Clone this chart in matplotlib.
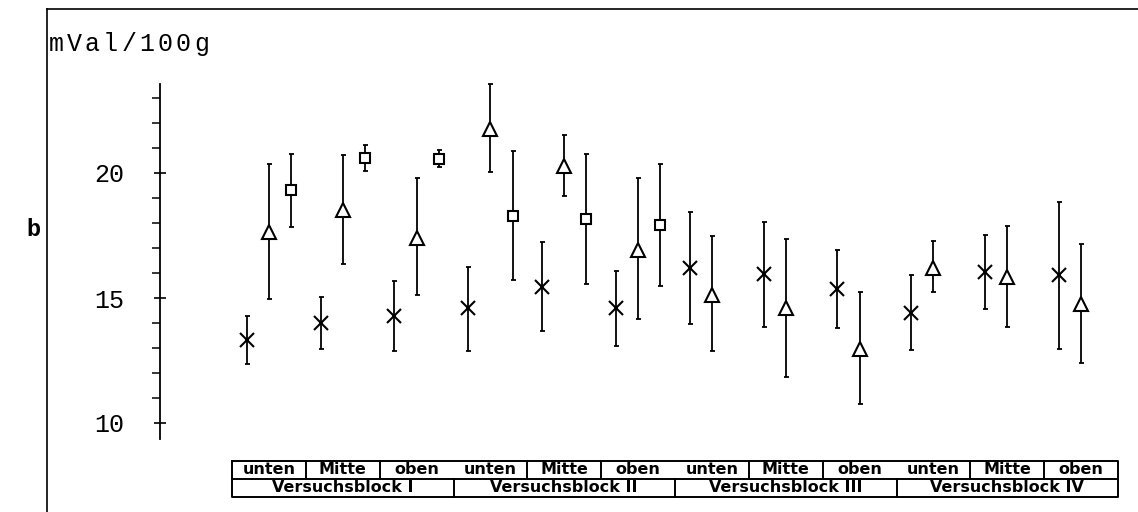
import numpy as np
import matplotlib.pyplot as plt
from matplotlib.lines import Line2D

# Werte (Mittelwert, obere / untere Grenze) je Feld: 4 Versuchsblöcke x (unten, Mitte, oben)
positions = ["unten", "Mitte", "oben"] * 4
blocks = ["Versuchsblock I", "Versuchsblock II", "Versuchsblock III", "Versuchsblock IV"]

x_mean = [13.32, 14.00, 14.28, 14.60, 15.44, 14.60, 16.20, 15.96, 15.36, 14.40, 16.04, 15.92]
x_hi   = [14.28, 15.04, 15.68, 16.24, 17.24, 16.08, 18.44, 18.04, 16.92, 15.92, 17.52, 18.84]
x_lo   = [12.36, 12.96, 12.88, 12.88, 13.68, 13.08, 13.96, 13.84, 13.80, 12.92, 14.56, 12.96]

tri_mean = [17.64, 18.52, 17.40, 21.76, 20.28, 16.92, 15.12, 14.60, 12.96, 16.20, 15.84, 14.76]
tri_hi   = [20.36, 20.72, 19.80, 23.56, 21.52, 19.80, 17.48, 17.36, 15.24, 17.28, 17.88, 17.16]
tri_lo   = [14.96, 16.36, 15.12, 20.04, 19.08, 14.16, 12.88, 11.84, 10.76, 15.24, 13.84, 12.40]

# Quadrate nur in Block I und II
sq_mean = [19.32, 20.60, 20.56, 18.28, 18.16, 17.92]
sq_hi   = [20.76, 21.12, 20.92, 20.88, 20.76, 20.36]
sq_lo   = [17.84, 20.08, 20.24, 15.72, 15.56, 15.48]

unit_label = "mVal/100g"

W, H = 1138, 512
fig = plt.figure(figsize=(W / 100, H / 100), dpi=100)

# Axes covering figure height; x in "column" units (table column i spans i..i+1)
col_w = (1118 - 232) / 12
x0 = (160 - 232) / col_w
x1 = (W - 232) / col_w
px = 25.0  # pixels per unit
ylo = 20 - (H - 173) / px
yhi = 20 + 173 / px
ax = fig.add_axes([160 / W, 0, (W - 160) / W, 1])
ax.set_xlim(x0, x1)
ax.set_ylim(ylo, yhi)

cols = np.arange(12)
err_kw = dict(fmt="none", ecolor="black", elinewidth=1.3, capsize=1.8, capthick=1.3)

def draw(xs, mean, hi, lo, marker, ms):
    mean = np.array(mean)
    yerr = [mean - np.array(lo), np.array(hi) - mean]
    ax.errorbar(xs, mean, yerr=yerr, **err_kw)
    ax.plot(xs, mean, linestyle="none", marker=marker, ms=ms, mfc="white",
            mec="black", mew=1.5, zorder=5)

draw(cols + 0.2, x_mean, x_hi, x_lo, "x", 10)
draw(cols + 0.5, tri_mean, tri_hi, tri_lo, "^", 10)
draw(np.arange(6) + 0.8, sq_mean, sq_hi, sq_lo, "s", 7.5)

# y axis
for s in ["top", "right", "bottom"]:
    ax.spines[s].set_visible(False)
ax.spines["left"].set_bounds(9.35, 23.55)
ax.spines["left"].set_linewidth(1.3)
ax.set_xticks([])
ax.set_yticks([10, 15, 20])
ax.set_yticks(np.arange(10, 24), minor=True)
ax.tick_params(axis="y", which="major", direction="inout", length=8, width=1.2,
               pad=22, labelsize=18)
ax.tick_params(axis="y", which="minor", length=5.5, width=1.1)
for lab in ax.get_yticklabels():
    lab.set_family("Liberation Mono")

# table below the points
t_top = 20 - (461 - 173) / px
t_mid = 20 - (479 - 173) / px
t_bot = 20 - (497 - 173) / px
lw = 1.4
ax.plot([0, 12, 12, 0, 0], [t_top, t_top, t_bot, t_bot, t_top], color="black", lw=lw)
ax.plot([0, 12], [t_mid, t_mid], color="black", lw=lw)
for i in range(1, 12):
    ax.plot([i, i], [t_top if i % 3 else t_bot, t_mid], color="black", lw=lw)
tfont = dict(family=["Liberation Sans Narrow", "DejaVu Sans"], fontweight="bold",
             fontsize=11.5, ha="center", va="center")
for i, p in enumerate(positions):
    ax.text(i + 0.5, (t_top + t_mid) / 2, p, **tfont)
for j, b in enumerate(blocks):
    ax.text(3 * j + 1.5, (t_mid + t_bot) / 2, b, **tfont)

# outer frame and labels
fig.add_artist(Line2D([47 / W, 47 / W], [0, 1 - 9 / H], color="black", lw=1.2))
fig.add_artist(Line2D([47 / W, 1], [1 - 9 / H, 1 - 9 / H], color="black", lw=1.2))
# spaced plotter lettering
for k, ch in enumerate(unit_label):
    fig.text((56 + 18.2 * k) / W, 1 - 44 / H, ch, family="Liberation Mono",
             fontsize=18, ha="center", va="center")
fig.text(33 / W, 1 - 230 / H, "b", family="Liberation Mono", fontweight="bold",
         fontsize=17, ha="center", va="center")

fig.savefig("out.png", dpi=100)
